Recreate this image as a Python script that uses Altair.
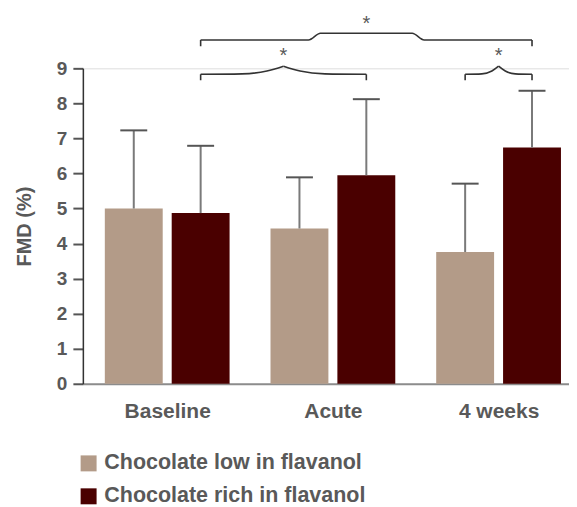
import altair as alt
import pandas as pd

# ---- data ----
categories = ["Baseline", "Acute", "4 weeks"]
series = ["Chocolate low in flavanol", "Chocolate rich in flavanol"]
low_values = [5.0, 4.43, 3.76]
low_errors = [2.23, 1.46, 1.95]
rich_values = [4.87, 5.95, 6.74]
rich_errors = [1.92, 2.17, 1.62]
y_ticks = [0, 1, 2, 3, 4, 5, 6, 7, 8, 9]

# significance brackets: which bars they join
bracket_from_cat = [0, 0, 2]
bracket_from_ser = [1, 1, 0]
bracket_to_cat = [2, 1, 2]
bracket_to_ser = [1, 1, 1]
bracket_level = ["high", "low", "low"]
bracket_label = ["*", "*", "*"]

colors = ["#b39b88", "#4a0000"]
text_color = "#595959"
FONT = "Liberation Sans"

# ---- layout constants (in scale units) ----
OFF = 0.2018   # bar centre offset from group centre
HALF = 0.1747  # half bar width
CAP = 0.0813   # half cap width
levels = {
    "high": dict(yh=9.81, yt=10.0, yb=9.63, ys=10.36),
    "low": dict(yh=8.83, yt=9.06, yb=8.66, ys=9.44),
}

def center(ci, si):
    return ci + (-OFF if si == 0 else OFF)

bars = []
for ci, cat in enumerate(categories):
    for si, (vals, errs) in enumerate([(low_values, low_errors), (rich_values, rich_errors)]):
        c = center(ci, si)
        bars.append(dict(cat=cat, series=series[si], x=c - HALF, x2=c + HALF, xc=c,
                         cl=c - CAP, cr=c + CAP, v=vals[ci], top=vals[ci] + errs[ci]))
bars_df = pd.DataFrame(bars)

curve_rows, tick_rows, star_rows = [], [], []
for bi in range(len(bracket_label)):
    x1 = center(bracket_from_cat[bi], bracket_from_ser[bi])
    x2 = center(bracket_to_cat[bi], bracket_to_ser[bi])
    lv = levels[bracket_level[bi]]
    cx = (x1 + x2) / 2
    tick_rows += [dict(x=x1, y=lv["yb"], y2=lv["yh"]), dict(x=x2, y=lv["yb"], y2=lv["yh"])]
    star_rows.append(dict(x=cx, y=lv["ys"], t=bracket_label[bi]))
    if bracket_level[bi] == "high":
        pts = [(x1, lv["yh"]), (cx - 0.349, lv["yh"]), (cx - 0.277, lv["yt"]),
               (cx + 0.277, lv["yt"]), (cx + 0.349, lv["yh"]), (x2, lv["yh"])]
        for k, (px, py) in enumerate(pts):
            curve_rows.append(dict(piece=f"b{bi}", x=px, y=py))
    else:
        fr = [0.0, 0.5, 0.8, 1.0]
        rs = [0.0, 0.05, 0.4, 1.0]
        d = lv["yt"] - lv["yh"]
        for f, r in zip(fr, rs):
            curve_rows.append(dict(piece=f"b{bi}L", x=x1 + f * (cx - x1), y=lv["yh"] + r * d))
            curve_rows.append(dict(piece=f"b{bi}R", x=x2 - f * (x2 - cx), y=lv["yh"] + r * d))
curve_df = pd.DataFrame(curve_rows)
tick_df = pd.DataFrame(tick_rows)
star_df = pd.DataFrame(star_rows)

xscale = alt.Scale(domain=[-0.509, 2.425], nice=False, zero=False)
yscale = alt.Scale(domain=[0, 9], nice=False)

label_expr = "[" + ",".join("'" + c + "'" for c in categories) + "][datum.value]"

x_axis = alt.Axis(values=[0, 1, 2], labelExpr=label_expr, title=None, grid=False, ticks=False,
                  domainColor="#8c8c8c", domainWidth=2, labelFontSize=21, labelFontWeight="bold",
                  labelColor=text_color, labelPadding=17, labelFont=FONT, labelOverlap=False)
y_axis = alt.Axis(values=y_ticks, tickCount=10, title="FMD (%)", grid=False, tickSize=10, tickWidth=2,
                  tickColor="#555555", domainColor="#333333", domainWidth=1.5,
                  labelFontSize=19, labelFontWeight="bold", labelColor=text_color, labelPadding=6,
                  labelOverlap=False, labelFont=FONT, titleFont=FONT, titleFontSize=20,
                  titleFontWeight="bold", titleColor=text_color, titlePadding=22)

base = alt.Chart(bars_df)

bar_layer = base.mark_bar().encode(
    x=alt.X("x:Q", scale=xscale, axis=x_axis),
    x2="x2:Q",
    y=alt.Y("v:Q", scale=yscale, axis=y_axis),
    y2=alt.datum(0),
    color=alt.Color("series:N", scale=alt.Scale(domain=series, range=colors),
                    legend=alt.Legend(title=None, orient="none", legendX=-5, legendY=385,
                                      symbolType="square", symbolSize=256, symbolStrokeWidth=0,
                                      labelFontSize=21.5, labelFontWeight="bold", labelColor=text_color,
                                      labelFont=FONT, rowPadding=10, labelOffset=5, padding=0,
                                      direction="vertical", labelLimit=400)),
)

err_line = base.mark_rule(color="#7a7a7a", strokeWidth=2).encode(
    x=alt.X("xc:Q", scale=xscale, axis=x_axis), y=alt.Y("v:Q", scale=yscale, axis=y_axis), y2="top:Q")
err_cap = base.mark_rule(color="#555555", strokeWidth=2).encode(
    x=alt.X("cl:Q", scale=xscale, axis=x_axis), x2="cr:Q", y=alt.Y("top:Q", scale=yscale, axis=y_axis))

curve_layer = alt.Chart(curve_df).mark_line(color="#333333", strokeWidth=1.6, interpolate="monotone").encode(
    x=alt.X("x:Q", scale=xscale, axis=x_axis), y=alt.Y("y:Q", scale=yscale, axis=y_axis),
    detail="piece:N", order="x:Q")
tick_layer = alt.Chart(tick_df).mark_rule(color="#333333", strokeWidth=1.6).encode(
    x=alt.X("x:Q", scale=xscale, axis=x_axis), y=alt.Y("y:Q", scale=yscale, axis=y_axis), y2="y2:Q")
star_layer = alt.Chart(star_df).mark_text(fontSize=20, font=FONT, color=text_color, baseline="middle", dy=3).encode(
    x=alt.X("x:Q", scale=xscale, axis=x_axis), y=alt.Y("y:Q", scale=yscale, axis=y_axis), text="t:N")

chart = alt.layer(bar_layer, err_line, err_cap, curve_layer, tick_layer, star_layer).properties(
    width=487, height=316, padding={"left": 6, "top": 5, "right": 0, "bottom": 0}
).configure_view(stroke=None).configure(font=FONT)

chart.save("out.html", embed_options={"renderer": "svg", "actions": False})
